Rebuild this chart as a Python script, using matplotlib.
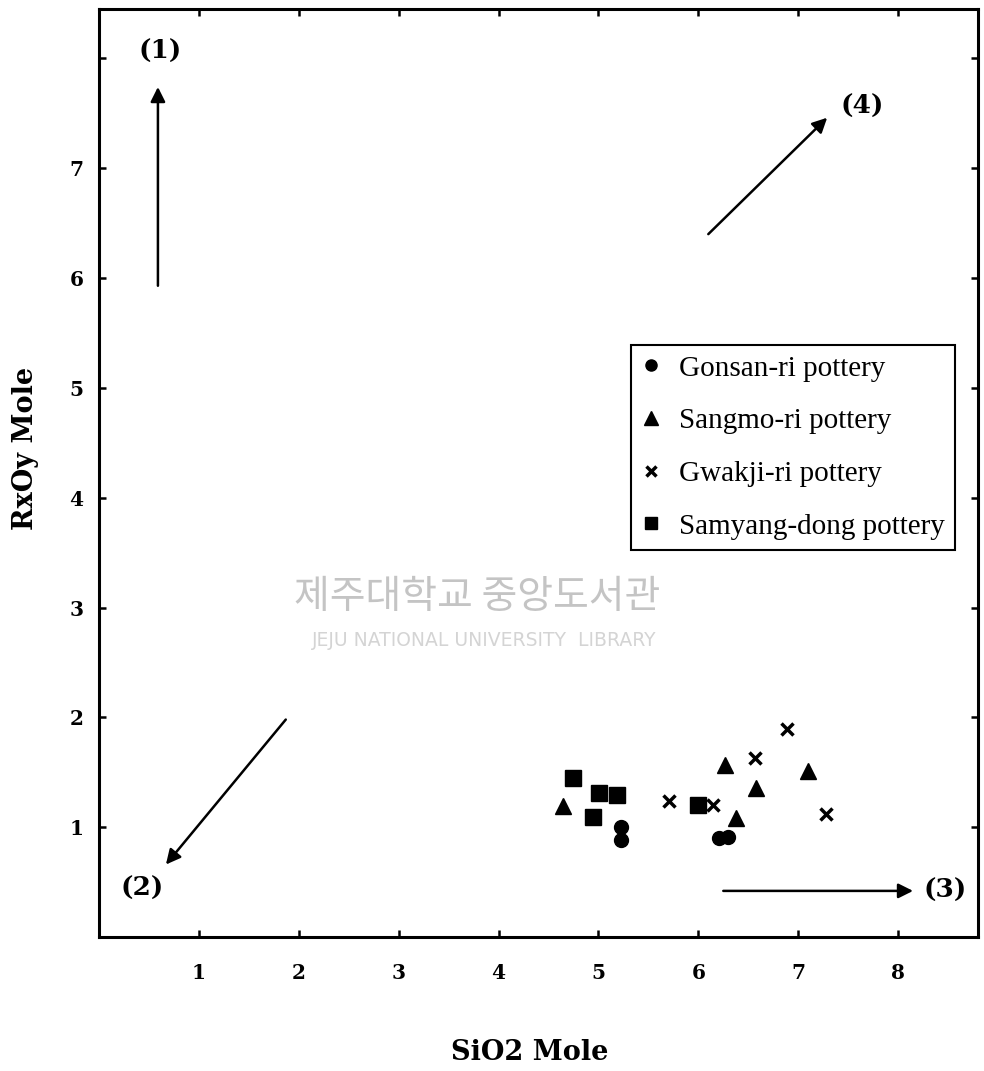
import matplotlib
matplotlib.use("Agg")
import matplotlib.pyplot as plt

# ---- data ----
gonsan_x = [5.23, 5.23, 6.21, 6.30]
gonsan_y = [1.00, 0.88, 0.90, 0.91]

sangmo_x = [4.65, 6.27, 6.58, 6.38, 7.10]
sangmo_y = [1.19, 1.57, 1.36, 1.08, 1.51]

gwakji_x = [6.89, 6.57, 5.71, 6.15, 7.28]
gwakji_y = [1.89, 1.63, 1.24, 1.20, 1.12]

samyang_x = [4.75, 5.01, 5.19, 4.95, 6.00]
samyang_y = [1.45, 1.31, 1.29, 1.09, 1.20]

series_labels = ["Gonsan-ri pottery", "Sangmo-ri pottery",
                 "Gwakji-ri pottery", "Samyang-dong pottery"]

x_ticks = [1, 2, 3, 4, 5, 6, 7, 8]
y_ticks = [1, 2, 3, 4, 5, 6, 7, 8]
y_tick_labels = ["1", "2", "3", "4", "5", "6", "7", ""]

# arrows: (start, end, label, label position)
arrow_labels = ["(1)", "(2)", "(3)", "(4)"]
arrow_starts = [(0.59, 5.93), (1.87, 1.98), (6.25, 0.42), (6.10, 6.40)]
arrow_ends = [(0.59, 7.74), (0.67, 0.66), (8.15, 0.42), (7.29, 7.46)]
label_pos = [(0.61, 8.06), (0.43, 0.44), (8.47, 0.42), (7.64, 7.56)]

serif = ["DejaVu Serif"]

fig = plt.figure(figsize=(9.84, 10.71), dpi=100)
ax = fig.add_axes([0.1006, 0.1251, 0.8933, 0.8665])

# watermark
fig.text(0.485, 1 - 597 / 1071, "제주대학교 중앙도서관", family=["Noto Sans CJK KR"],
         fontsize=28, color="#c4c4c4", ha="center", va="center", zorder=0)
fig.text(0.492, 1 - 640 / 1071, "JEJU NATIONAL UNIVERSITY  LIBRARY", family=["DejaVu Sans"],
         fontsize=13.5, color="#d4d4d4", ha="center", va="center", zorder=0)

ms = 11
ax.plot(gonsan_x, gonsan_y, linestyle="none", marker="o", color="black", markersize=ms - 1,
        label=series_labels[0])
ax.plot(sangmo_x, sangmo_y, linestyle="none", marker="^", color="black", markersize=ms + 1,
        label=series_labels[1])
ax.plot(gwakji_x, gwakji_y, linestyle="none", marker="x", color="black", markersize=ms - 2,
        markeredgewidth=2.5, label=series_labels[2])
ax.plot(samyang_x, samyang_y, linestyle="none", marker="s", color="black", markersize=ms,
        label=series_labels[3])

for (s, e, lab, lp) in zip(arrow_starts, arrow_ends, arrow_labels, label_pos):
    ax.annotate("", xy=e, xytext=s,
                arrowprops=dict(arrowstyle="-|>", color="black", lw=1.8,
                                mutation_scale=22, shrinkA=0, shrinkB=0))
    ax.text(lp[0], lp[1], lab, family=serif, fontweight="bold", fontsize=19,
            ha="center", va="center")

ax.set_xlim(0, 8.8)
ax.set_ylim(0, 8.45)
ax.set_xticks(x_ticks)
ax.set_xticklabels([str(t) for t in x_ticks])
ax.set_yticks(y_ticks)
ax.set_yticklabels(y_tick_labels)
ax.tick_params(direction="in", length=5, width=1.8, top=True, right=True,
               labelsize=14.5)
ax.tick_params(axis="x", pad=19)
ax.tick_params(axis="y", pad=11)
for lab in ax.get_xticklabels() + ax.get_yticklabels():
    lab.set_family(serif)
    lab.set_fontweight("bold")
for sp in ax.spines.values():
    sp.set_linewidth(2.2)
ax.patch.set_alpha(0)

fig.text(0.538, 1 - 1053 / 1071, "SiO2 Mole", family=serif, fontweight="bold",
         fontsize=19.5, ha="center", va="center")
fig.text(0.026, 1 - 448 / 1071, "RxOy Mole", family=serif, fontweight="bold",
         fontsize=19.5, ha="center", va="center", rotation=90)

leg = ax.legend(loc="upper left", bbox_to_anchor=(0.605, 0.638), frameon=True,
                fancybox=False, edgecolor="black", framealpha=1,
                prop={"family": "Liberation Serif", "size": 21},
                labelspacing=0.9, handlelength=0.7, handletextpad=0.6,
                borderpad=0.35, markerscale=0.8, borderaxespad=0)
leg.get_frame().set_linewidth(1.5)

fig.savefig("out.png", dpi=100)
